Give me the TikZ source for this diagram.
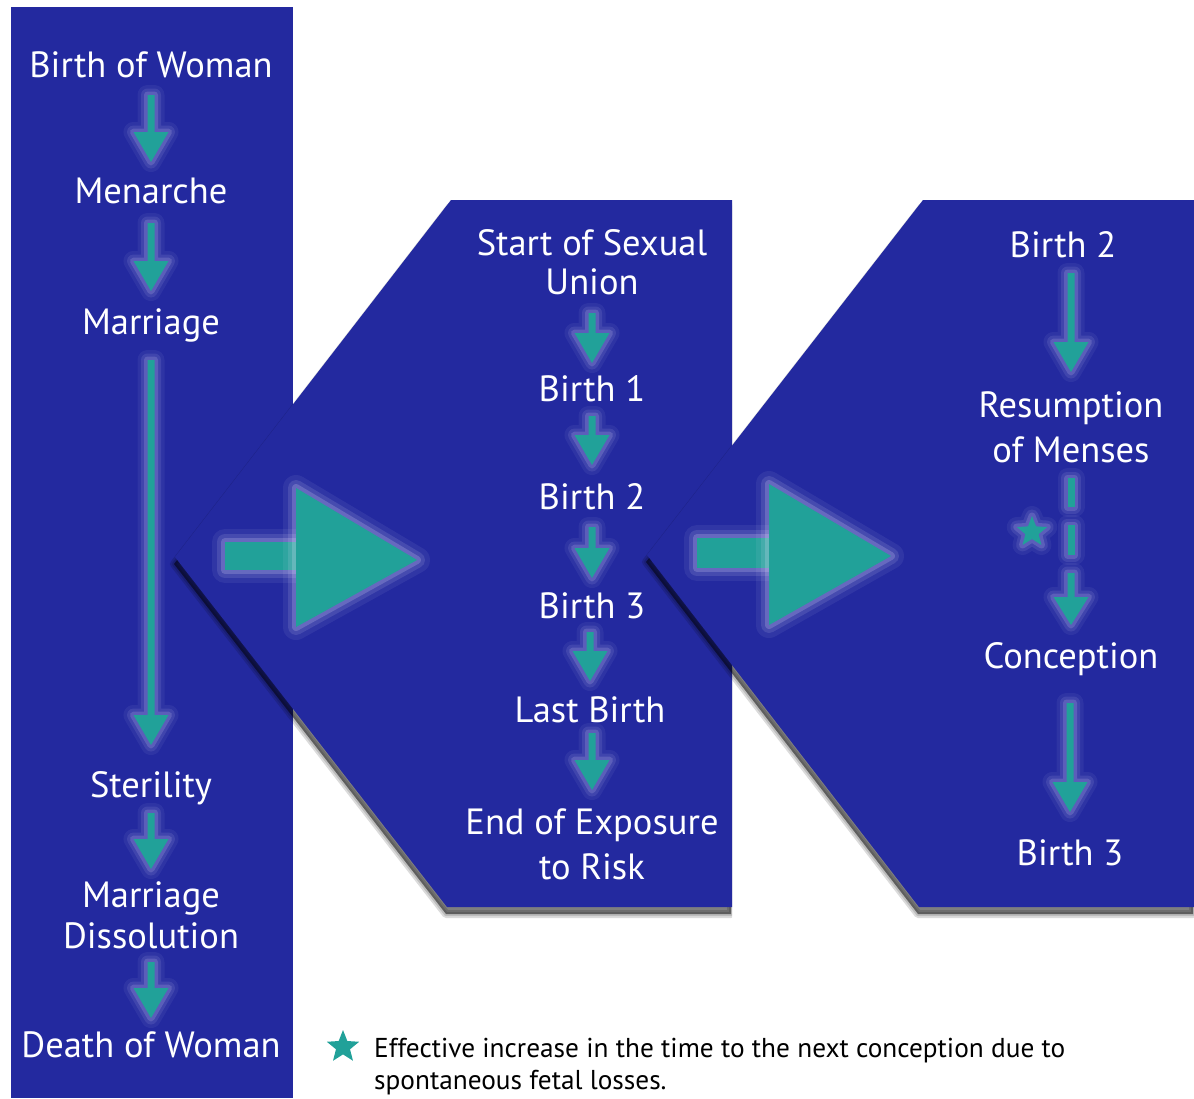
\documentclass[tikz,border=0pt]{standalone}
\usepackage{fontspec}
\setmainfont{PT Sans}
\newfontfamily\legendfont{PT Sans}
\usetikzlibrary{calc,shapes.geometric}
\pgfdeclarelayer{front}
\pgfsetlayers{main,front}
\definecolor{panelblue}{HTML}{23299F}
\definecolor{arrteal}{HTML}{21A199}
\definecolor{glowc}{HTML}{E8E4FF}
\tikzset{
  panel/.style={fill=panelblue},
  shadowfill/.style={fill=black, fill opacity=.5},
  shadowsoft/.style={draw=black, draw opacity=.14, line width=#1, line join=round},
  glow/.style={preaction={draw=glowc, draw opacity=.06, line width=20pt, line join=round},
               preaction={draw=glowc, draw opacity=.10, line width=13pt, line join=round},
               preaction={draw=glowc, draw opacity=.16, line width=7pt, line join=round}},
  bigglow/.style={preaction={draw=glowc, draw opacity=.07, line width=26pt, line join=round},
               preaction={draw=glowc, draw opacity=.12, line width=16pt, line join=round},
               preaction={draw=glowc, draw opacity=.2, line width=8pt, line join=round}},
  arrowshape/.style={glow, fill=arrteal},
  bigarrow/.style={bigglow, fill=arrteal},
  txt/.style={text=white, inner sep=0pt, font=\fontsize{36.5}{41}\selectfont, align=center, anchor=base},
  legendtext/.style={text=black, inner sep=0pt, font=\legendfont\fontsize{27.3}{32}\selectfont, align=left, anchor=base west},
  starmark/.style={star, star points=5, star point ratio=2.3, fill=arrteal, minimum size=34pt, inner sep=0pt},
}
% arrow from node #1 to node #2: start #3 px below #1's baseline, tip #4 px above #2's baseline
\newcommand\flowarrow[4]{%
  \path[arrowshape] let \p1=(#1.base), \p2=(#2.base) in
    (\x2-3.5pt,\y1-#3pt) -- (\x2-3.5pt,\y2+#4pt+30pt) -- (\x2-17.5pt,\y2+#4pt+30pt) --
    (\x2,\y2+#4pt) -- (\x2+17.5pt,\y2+#4pt+30pt) -- (\x2+3.5pt,\y2+#4pt+30pt) --
    (\x2+3.5pt,\y1-#3pt) -- cycle;}
% dashed arrow from node #1 to node #2
\newcommand\dashflow[2]{%
  \path[arrowshape] let \p1=(#1.base), \p2=(#2.base) in
    (\x2-3.5pt,\y1-16pt) rectangle (\x2+3.5pt,\y1-45pt);
  \path[arrowshape] let \p1=(#1.base), \p2=(#2.base) in
    (\x2-3.5pt,\y1-63pt) rectangle (\x2+3.5pt,\y1-93pt);
  \path[arrowshape] let \p1=(#1.base), \p2=(#2.base) in
    (\x2-3.5pt,\y1-111pt) -- (\x2-3.5pt,\y2+71pt) -- (\x2-17.5pt,\y2+71pt) --
    (\x2,\y2+43pt) -- (\x2+17.5pt,\y2+71pt) -- (\x2+3.5pt,\y2+71pt) --
    (\x2+3.5pt,\y1-111pt) -- cycle;}
\begin{document}
\begin{tikzpicture}[x=1pt,y=-1pt]
\useasboundingbox (0,0) rectangle (1194,1098);

% ---------- text nodes (front layer); a node's base is the baseline of its last line
\begin{pgfonlayer}{front}
  \node[txt] (bow) at (151,77) {Birth of Woman};
  \node[txt] (men) at (151,203) {Menarche};
  \node[txt] (mar) at (151,334) {Marriage};
  \node[txt] (ste) at (151,797) {Sterility};
  \node[txt] (dis) at (151,948) {Marriage\\Dissolution};
  \node[txt] (dow) at (151,1057) {Death of Woman};

  \node[txt] (ssu) at (592,294) {Start of Sexual\\[-2pt]Union};
  \node[txt] (b1) at (592,401) {Birth 1};
  \node[txt] (b2) at (592,509) {Birth 2};
  \node[txt] (b3) at (592,618) {Birth 3};
  \node[txt] (lb) at (590,722) {Last Birth};
  \node[txt] (eoe) at (592,879) {End of Exposure\\[4pt]to Risk};

  \node[txt] (rb2) at (1063,257) {Birth 2};
  \node[txt] (res) at (1071,462) {Resumption\\[4pt]of Menses};
  \node[txt] (con) at (1071,668) {Conception};
  \node[txt] (rb3) at (1070,865) {Birth 3};

  \node[starmark] (legstar) at (343,1047) {};
  \node[legendtext] (legtext) at (374,1089) {Effective increase in the time to the next conception due to\\spontaneous fetal losses.};
\end{pgfonlayer}

% ---------- left panel
\fill[panel] (11,7) rectangle (293,1098);
\flowarrow{bow}{men}{18}{41}
\flowarrow{men}{mar}{20}{43}
\flowarrow{mar}{ste}{26}{52}
\flowarrow{ste}{dis}{16}{79}
\flowarrow{dis}{dow}{14}{39}

% ---------- middle panel
\begin{scope}
  \clip (0,0) rectangle (732,1098);
  \path[shadowfill, shift={(-1,7)}] (451,200) -- (732,200) -- (732,907) -- (447,907) -- (175,557) -- cycle;
  \draw[shadowsoft=8pt, shift={(-1,7)}] (451,200) -- (732,200) -- (732,907) -- (447,907) -- (175,557) -- cycle;
  \draw[shadowsoft=4pt, shift={(-1,7)}] (451,200) -- (732,200) -- (732,907) -- (447,907) -- (175,557) -- cycle;
\end{scope}
\fill[panel] (451,200) -- (732,200) -- (732,907) -- (447,907) -- (175,557) -- cycle;
\path[bigarrow] (225,542) rectangle (296,570);
\path[bigarrow] (296,488) -- (417,560) -- (296,627) -- cycle;
\flowarrow{ssu}{b1}{19}{38}
\flowarrow{b1}{b2}{15}{44}
\flowarrow{b2}{b3}{18}{40}
\flowarrow{b3}{lb}{14}{41}
\flowarrow{lb}{eoe}{11}{89}

% ---------- right panel
\path[shadowfill, shift={(-1,7)}] (923,200) -- (1194,200) -- (1194,907) -- (919,907) -- (647,555) -- cycle;
\draw[shadowsoft=8pt, shift={(-1,7)}] (923,200) -- (1194,200) -- (1194,907) -- (919,907) -- (647,555) -- cycle;
\draw[shadowsoft=4pt, shift={(-1,7)}] (923,200) -- (1194,200) -- (1194,907) -- (919,907) -- (647,555) -- cycle;
\fill[panel] (923,200) -- (1194,200) -- (1194,907) -- (919,907) -- (647,555) -- cycle;
\path[bigarrow] (697,538) rectangle (769,568);
\path[bigarrow] (769,484) -- (891,556) -- (769,625) -- cycle;
\flowarrow{rb2}{res}{16}{90}
\dashflow{res}{con}
\flowarrow{con}{rb3}{35}{53}
\node[starmark, glow, minimum size=32pt] (lossstar) at (1032,532) {};
\end{tikzpicture}
\end{document}
